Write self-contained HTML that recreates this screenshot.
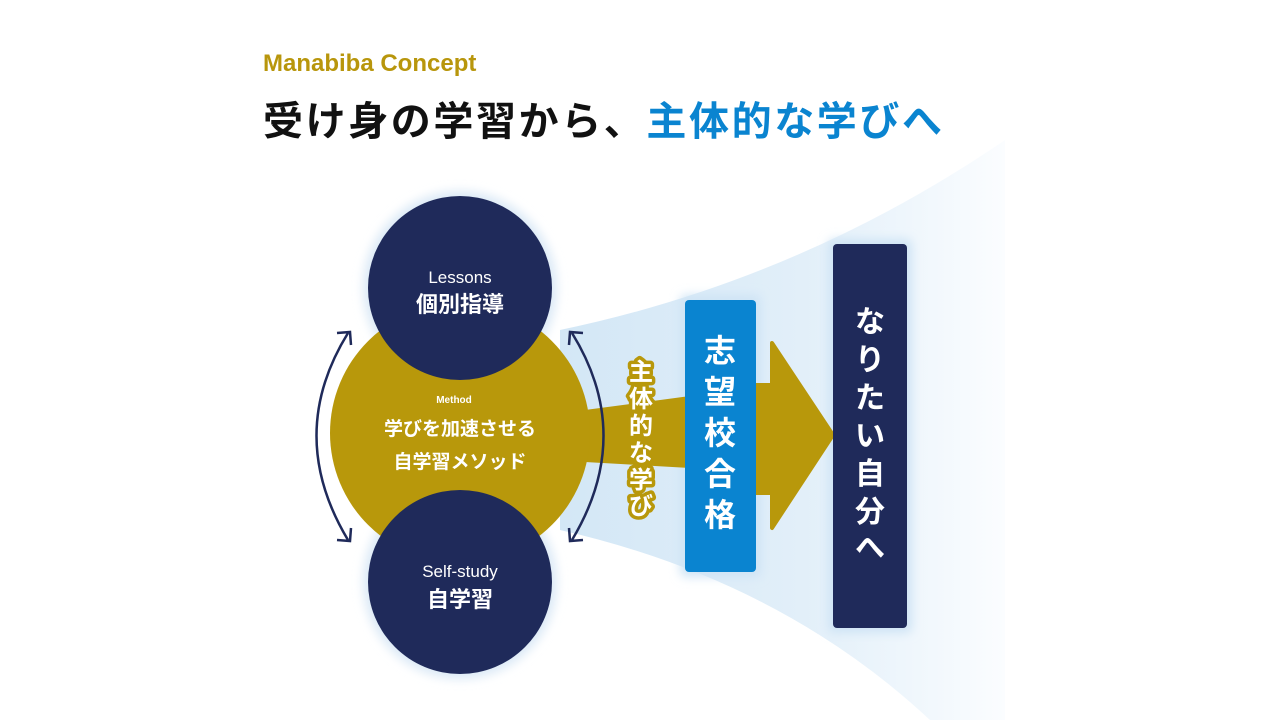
<!DOCTYPE html>
<html><head><meta charset="utf-8"><style>
html,body{margin:0;padding:0;background:#fff;width:1280px;height:720px;overflow:hidden;position:relative;font-family:"Liberation Sans","Noto Sans CJK JP",sans-serif}
.t1{position:absolute;left:263px;top:50px;font-size:24px;font-weight:bold;color:#b8960c;}
.t2{position:absolute;left:263px;top:98px;font-size:40px;font-weight:bold;color:#111;letter-spacing:2.6px;white-space:nowrap;line-height:48px}
.t2 span{color:#0a84d0}
svg{position:absolute;left:0;top:0}
</style></head><body>
<div class="t1">Manabiba Concept</div>
<div class="t2">受け身の学習から、<span>主体的な学びへ</span></div>
<svg width="1280" height="720" viewBox="0 0 1280 720">
<defs>
<linearGradient id="fan" x1="0" x2="1" y1="0" y2="0">
<stop offset="0" stop-color="#d3e7f6"/>
<stop offset="0.55" stop-color="#e2eff9"/>
<stop offset="1" stop-color="#fbfdff"/>
</linearGradient>
<filter id="glow" x="-30%" y="-30%" width="160%" height="160%"><feGaussianBlur stdDeviation="5"/></filter>
</defs>
<path d="M560 330 Q800 280 1005 140 L1005 720 L930 720 Q780 580 560 530 Z" fill="url(#fan)"/>
<circle cx="460" cy="288" r="97" fill="#dbe9f6" filter="url(#glow)"/>
<circle cx="460" cy="582" r="97" fill="#dbe9f6" filter="url(#glow)"/>
<rect x="680" y="295" width="81" height="282" rx="6" fill="#cfe4f5" filter="url(#glow)"/>
<rect x="828" y="239" width="84" height="394" rx="6" fill="#cfe4f5" filter="url(#glow)"/>
<path d="M585 410 L690 396 L690 468 L585 462 Z" fill="#b8980b"/>
<circle cx="460" cy="433" r="130" fill="#b8980b"/>
<circle cx="460" cy="288" r="92" fill="#1f2a5a"/>
<circle cx="460" cy="582" r="92" fill="#1f2a5a"/>
<path d="M752 385 L772 385 L772 343 L833 435 L772 528 L772 493 L752 493 Z" fill="#b8980b" stroke="#b8980b" stroke-width="4" stroke-linejoin="round"/>
<rect x="685" y="300" width="71" height="272" rx="4" fill="#0a84d0"/>
<rect x="833" y="244" width="74" height="384" rx="4" fill="#1f2a5a"/>
<g fill="none" stroke="#1f2a5a" stroke-width="2.5">
<path d="M348 333 Q285 435 348 540"/>
<path d="M337 333 L350 332 L351 345"/>
<path d="M337 540 L350 541 L351 528"/>
<path d="M572 333 Q635 435 572 540"/>
<path d="M583 333 L570 332 L569 345"/>
<path d="M583 540 L570 541 L569 528"/>
</g>
<g fill="#fff" text-anchor="middle">
<text x="460" y="283" font-size="17">Lessons</text>
<text x="460" y="312" font-size="22" font-weight="bold">個別指導</text>
<text x="454" y="403" font-size="10" font-weight="bold">Method</text>
<text x="460" y="435" font-size="19" font-weight="bold">学びを加速させる</text>
<text x="460" y="468" font-size="19" font-weight="bold">自学習メソッド</text>
<text x="460" y="577" font-size="17">Self-study</text>
<text x="460" y="607" font-size="22" font-weight="bold">自学習</text>
</g>
<g font-weight="bold" font-size="24" text-anchor="middle" fill="#fff" stroke="#b8980b" stroke-width="7" paint-order="stroke" stroke-linejoin="round">
<text x="641" y="380">主</text><text x="641" y="407">体</text><text x="641" y="434">的</text><text x="641" y="461">な</text><text x="641" y="488">学</text><text x="641" y="514">び</text>
</g>
<g font-weight="bold" font-size="32" text-anchor="middle" fill="#fff">
<text x="720" y="362">志</text><text x="720" y="403">望</text><text x="720" y="444">校</text><text x="720" y="485">合</text><text x="720" y="526">格</text>
</g>
<g font-weight="bold" font-size="30" text-anchor="middle" fill="#fff">
<text x="870" y="332">な</text><text x="870" y="370">り</text><text x="870" y="408">た</text><text x="870" y="446">い</text><text x="870" y="484">自</text><text x="870" y="522">分</text><text x="870" y="558">へ</text>
</g>
</svg>
</body></html>
